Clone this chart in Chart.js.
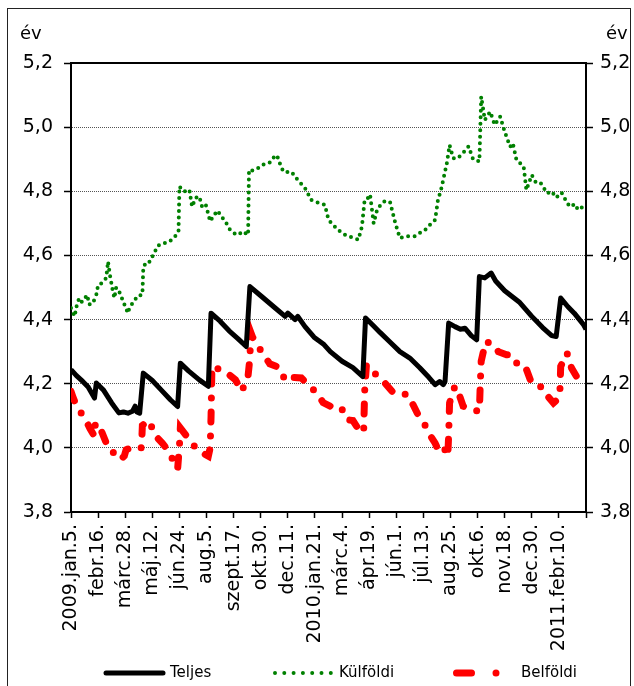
<!DOCTYPE html>
<html lang="hu">
<head>
    <meta charset="UTF-8">
    <title>Átlagos hátralévő futamidő</title>
    <script src="https://cdn.jsdelivr.net/npm/chart.js@4"></script>
    <style>
        body {
            margin: 0;
            padding: 0;
            background: #fff;
        }
        .frame {
            position: absolute;
            left: 7px;
            top: 8px;
            width: 622px;
            height: 700px;
            border: 1px solid #222;
        }
        #chart {
            position: absolute;
            left: 0;
            top: 0;
        }
    </style>
</head>
<body>
    <div class="frame"></div>
    <canvas id="chart" width="634" height="686"></canvas>

    <script>
        // category labels, one every 30 trading days
        const xLabels = ['2009.jan.5.', 'febr.16.', 'márc.28.', 'máj.12.', 'jún.24.', 'aug.5.', 'szept.17.',
            'okt.30.', 'dec.11.', '2010.jan.21.', 'márc.4.', 'ápr.19.', 'jún.1.', 'júl.13.', 'aug.25.',
            'okt.6.', 'nov.18.', 'dec.30.', '2011.febr.10.'];
        const yTicks = [3.8, 4.0, 4.2, 4.4, 4.6, 4.8, 5.0, 5.2];

        // Teljes (day index, years)
        const teljesX = [0, 6, 13, 19, 26, 28, 36, 45, 53, 58, 63, 68, 71, 73, 76, 80, 90, 100, 110, 118,
            121, 130, 142, 152, 155, 165, 175, 185, 194, 198, 211, 226, 237, 240, 248, 251, 259, 269, 280, 287,
            300, 312, 323, 326, 335, 342, 353, 364, 375, 386, 396, 403, 408, 412, 414, 418, 425, 431, 436, 443,
            449, 452, 458, 465, 470, 480, 496, 510, 522, 532, 537, 542, 550, 557, 567, 570];
        const teljesY = [4.244, 4.225, 4.207, 4.19, 4.155, 4.202, 4.18, 4.14, 4.109, 4.112, 4.108, 4.114, 4.13, 4.112, 4.108, 4.233, 4.21, 4.18, 4.15, 4.129,
            4.264, 4.24, 4.212, 4.192, 4.42, 4.395, 4.365, 4.34, 4.316, 4.503, 4.472, 4.436, 4.41, 4.42, 4.40, 4.41, 4.378, 4.345, 4.322, 4.30,
            4.27, 4.25, 4.222, 4.405, 4.38, 4.36, 4.33, 4.30, 4.28, 4.25, 4.22, 4.197, 4.207, 4.197, 4.207, 4.389, 4.378, 4.37, 4.373, 4.35,
            4.337, 4.534, 4.53, 4.545, 4.52, 4.49, 4.455, 4.41, 4.375, 4.35, 4.347, 4.467, 4.44, 4.42, 4.385, 4.37];

        // Külföldi
        const kulfoldiX = [0, 4, 6, 9, 12, 18, 20, 24, 28, 30, 35, 39, 41, 43, 46, 48, 50, 53, 58, 63,
            65, 68, 74, 79, 80, 83, 87, 92, 96, 101, 107, 114, 119, 120, 124, 127, 131, 134, 138, 142,
            145, 149, 154, 157, 162, 167, 172, 176, 180, 185, 190, 196, 197, 201, 206, 211, 216, 220, 224, 228,
            230, 235, 239, 244, 251, 259, 266, 273, 281, 285, 292, 300, 307, 312, 318, 322, 325, 329, 331, 335,
            339, 346, 353, 359, 364, 372, 381, 386, 392, 397, 403, 406, 410, 416, 419, 423, 428, 434, 440, 445,
            452, 454, 456, 458, 464, 469, 475, 480, 486, 489, 493, 501, 504, 510, 514, 519, 527, 532, 537, 543,
            548, 552, 558, 561, 567, 570];
        const kulfoldiY = [4.436, 4.41, 4.44, 4.467, 4.455, 4.477, 4.447, 4.45, 4.477, 4.508, 4.515, 4.53, 4.581, 4.54, 4.493, 4.467, 4.50, 4.49, 4.455, 4.42,
            4.44, 4.45, 4.475, 4.477, 4.56, 4.58, 4.58, 4.607, 4.63, 4.638, 4.64, 4.654, 4.675, 4.815, 4.80, 4.80, 4.805, 4.752, 4.78, 4.784,
            4.752, 4.76, 4.706, 4.72, 4.74, 4.72, 4.70, 4.68, 4.67, 4.664, 4.675, 4.664, 4.867, 4.865, 4.87, 4.882, 4.885, 4.89, 4.905, 4.913,
            4.895, 4.861, 4.86, 4.861, 4.835, 4.81, 4.773, 4.765, 4.758, 4.711, 4.69, 4.669, 4.66, 4.655, 4.649, 4.69, 4.773, 4.78, 4.79, 4.70,
            4.745, 4.768, 4.768, 4.70, 4.654, 4.66, 4.66, 4.67, 4.68, 4.695, 4.711, 4.77, 4.81, 4.888, 4.944, 4.903, 4.903, 4.92, 4.94, 4.90,
            4.893, 5.095, 5.06, 5.022, 5.048, 5.007, 5.033, 4.986, 4.939, 4.95, 4.898, 4.877, 4.804, 4.851, 4.83, 4.83, 4.794, 4.80, 4.78, 4.796,
            4.77, 4.752, 4.76, 4.742, 4.752, 4.75];

        // Belföldi
        const belfoldiX = [0, 2, 6, 9, 17, 21, 26, 27, 33, 42, 50, 55, 59, 61, 70, 78, 79, 86, 94, 101,
            107, 118, 120, 121, 127, 135, 142, 152, 154, 155, 156, 165, 172, 182, 189, 196, 198, 199, 201, 206,
            211, 220, 231, 237, 242, 255, 265, 272, 279, 287, 295, 300, 305, 312, 321, 324, 325, 327, 336, 346,
            357, 364, 373, 384, 392, 397, 403, 407, 413, 417, 418, 419, 422, 425, 428, 434, 438, 443, 452, 453,
            454, 459, 469, 473, 482, 488, 493, 502, 510, 523, 528, 534, 538, 541, 542, 549, 554, 560, 566, 570];
        const belfoldiY = [4.176, 4.16, 4.13, 4.119, 4.083, 4.06, 4.036, 4.078, 4.057, 3.994, 3.98, 3.963, 3.975, 3.994, 4.005, 4.0, 4.07, 4.086, 4.036, 4.015,
            3.994, 3.934, 4.005, 4.062, 4.04, 4.01, 3.99, 3.974, 4.0, 4.096, 4.254, 4.244, 4.235, 4.212, 4.176, 4.225, 4.28, 4.36, 4.345, 4.321,
            4.30, 4.262, 4.25, 4.21, 4.22, 4.218, 4.19, 4.172, 4.141, 4.13, 4.116, 4.12, 4.088, 4.085, 4.046, 4.06, 4.176, 4.259, 4.233, 4.207,
            4.171, 4.17, 4.166, 4.104, 4.07, 4.041, 4.015, 3.989, 4.0, 3.974, 4.04, 4.14, 4.17, 4.192, 4.18, 4.13, 4.125, 4.119, 4.114, 4.202,
            4.27, 4.332, 4.32, 4.30, 4.29, 4.29, 4.265, 4.26, 4.20, 4.187, 4.16, 4.14, 4.15, 4.166, 4.254, 4.296, 4.249, 4.22, 4.202, 4.20];

        const points = (xs, ys) => xs.map((x, i) => ({ x: x, y: ys[i] }));

        Chart.defaults.font.family = '"DejaVu Sans", sans-serif';
        Chart.defaults.font.size = 19;
        Chart.defaults.color = '#000';

        // legend samples: where the sample starts, how it is stroked, where the text goes
        const legendItems = [
            { text: 'Teljes', x1: 106, x2: 163, textX: 170, color: '#000', width: 5, dash: [] },
            { text: 'Külföldi', x1: 275, x2: 331, textX: 339, color: '#008000', width: 4, dash: [0, 9.3] },
            { text: 'Belföldi', x1: 456.5, x2: 505, textX: 521, color: '#ff0000', width: 7, dash: [15, 24.5, 0, 200] }
        ];
        const LEGEND_Y = 673;

        // top border of the plot, the "év" unit labels and the legend under the axis
        const framePlugin = {
            id: 'frame',
            afterDraw(chart) {
                const ctx = chart.ctx;
                const a = chart.chartArea;
                ctx.save();
                ctx.strokeStyle = '#000';
                ctx.lineWidth = 2;
                ctx.beginPath();
                ctx.moveTo(a.left, a.top);
                ctx.lineTo(a.right, a.top);
                ctx.stroke();

                ctx.fillStyle = '#000';
                ctx.textBaseline = 'middle';
                ctx.font = '18px "DejaVu Sans"';
                ctx.fillText('év', 20, 34);
                ctx.fillText('év', 606, 34);

                ctx.font = '15px "DejaVu Sans"';
                legendItems.forEach(item => {
                    ctx.save();
                    ctx.strokeStyle = item.color;
                    ctx.lineWidth = item.width;
                    ctx.lineCap = 'round';
                    ctx.setLineDash(item.dash);
                    ctx.beginPath();
                    ctx.moveTo(item.x1, LEGEND_Y);
                    ctx.lineTo(item.x2, LEGEND_Y);
                    ctx.stroke();
                    ctx.restore();
                    ctx.fillText(item.text, item.textX, LEGEND_Y);
                });
                ctx.restore();
            }
        };

        const yTickCallback = v => v.toFixed(1).replace('.', ',');

        new Chart(document.getElementById('chart'), {
            type: 'line',
            data: {
                datasets: [{
                    label: 'Teljes',
                    data: points(teljesX, teljesY),
                    borderColor: '#000',
                    borderWidth: 5,
                    borderJoinStyle: 'round',
                    yAxisID: 'y'
                }, {
                    label: 'Külföldi',
                    data: points(kulfoldiX, kulfoldiY),
                    borderColor: '#008000',
                    borderWidth: 4,
                    borderDash: [0, 6.5],
                    borderCapStyle: 'round',
                    yAxisID: 'y'
                }, {
                    label: 'Belföldi',
                    data: points(belfoldiX, belfoldiY),
                    borderColor: '#ff0000',
                    borderWidth: 7,
                    borderDash: [10, 14, 0, 14],
                    borderCapStyle: 'round',
                    yAxisID: 'y'
                }]
            },
            options: {
                responsive: false,
                animation: false,
                elements: { point: { radius: 0 }, line: { tension: 0 } },
                layout: { padding: { top: 63, left: 0, right: 0, bottom: 0 } },
                plugins: {
                    tooltip: { enabled: false },
                    legend: { display: false }
                },
                scales: {
                    x: {
                        type: 'linear',
                        min: 0,
                        max: 570,
                        afterBuildTicks: s => { s.ticks = xLabels.concat(['']).map((l, i) => ({ value: i * 30 })); },
                        afterFit: s => { s.height = 686 - 512; },
                        ticks: {
                            autoSkip: false,
                            minRotation: 90,
                            maxRotation: 90,
                            padding: 6,
                            callback: (v, i) => xLabels[i] || ''
                        },
                        grid: { drawOnChartArea: false, drawTicks: true, tickLength: 6, tickColor: '#000', tickWidth: 1.5 },
                        border: { color: '#000', width: 2 }
                    },
                    y: {
                        position: 'left',
                        min: 3.8,
                        max: 5.2,
                        afterBuildTicks: s => { s.ticks = yTicks.map(v => ({ value: v })); },
                        afterFit: s => { s.width = 71; },
                        ticks: { padding: 11, callback: yTickCallback },
                        grid: { color: '#555', lineWidth: 1, tickLength: 7, tickColor: '#000', tickWidth: 1.5 },
                        border: { color: '#000', width: 2, dash: [1, 1] }
                    },
                    y2: {
                        position: 'right',
                        min: 3.8,
                        max: 5.2,
                        afterBuildTicks: s => { s.ticks = yTicks.map(v => ({ value: v })); },
                        afterFit: s => { s.width = 48; },
                        ticks: { padding: 7, callback: yTickCallback },
                        grid: { drawOnChartArea: false, tickLength: 7, tickColor: '#000', tickWidth: 1.5 },
                        border: { color: '#000', width: 2 }
                    }
                }
            },
            plugins: [framePlugin]
        });
    </script>
</body>
</html>
